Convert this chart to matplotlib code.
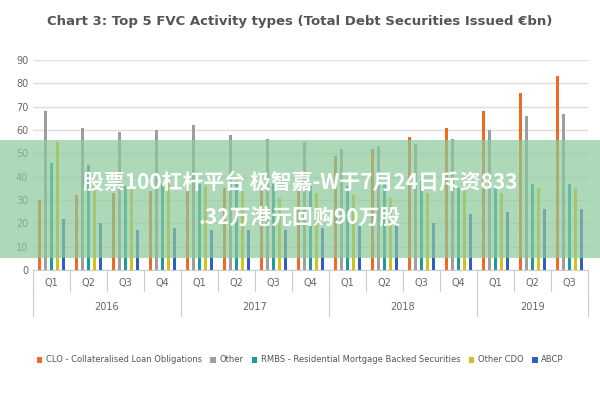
import matplotlib.pyplot as plt
import numpy as np
from matplotlib.patches import Rectangle

quarters = ["Q1", "Q2", "Q3", "Q4"] * 3 + ["Q1", "Q2", "Q3"]
years = ["2016", "2017", "2018", "2019"]
year_len = [4, 4, 4, 3]
series = ["CLO - Collateralised Loan Obligations", "Other",
          "RMBS - Residential Mortgage Backed Securities", "Other CDO", "ABCP"]
colors = ["#f26a21", "#9e9e9e", "#1f9a9a", "#d4c21c", "#2f5fbf"]
clo = [30, 32, 33, 34, 35, 35, 35, 34, 49, 52, 57, 61, 68, 76, 83]
other = [68, 61, 59, 60, 62, 58, 56, 55, 52, 53, 54, 56, 60, 66, 67]
rmbs = [46, 45, 36, 37, 37, 38, 37, 36, 36, 37, 38, 35, 36, 37, 37]
other_cdo = [55, 37, 36, 38, 36, 34, 31, 33, 32, 31, 33, 35, 33, 35, 35]
abcp = [22, 20, 17, 18, 17, 17, 17, 18, 19, 20, 20, 24, 25, 26, 26]
data = [clo, other, rmbs, other_cdo, abcp]

fig = plt.figure(figsize=(6, 4), dpi=100)
ax = fig.add_axes([0.055, 0.325, 0.925, 0.525])
x = np.arange(len(quarters))
w = 0.09
for i, (vals, c, name) in enumerate(zip(data, colors, series)):
    ax.bar(x + (i - 2) * 0.16, vals, w, color=c, label=name)

ax.set_ylim(0, 90)
ax.set_yticks(range(0, 91, 10))
ax.set_xlim(-0.5, len(quarters) - 0.5)
ax.yaxis.grid(True, color="#dddddd", lw=1)
ax.set_axisbelow(True)
for s in ax.spines.values():
    s.set_visible(False)
ax.tick_params(axis="y", length=0, labelsize=7, labelcolor="#666666")
ax.set_xticks(x)
ax.set_xticklabels(quarters, fontsize=7, color="#666666")
ax.tick_params(axis="x", length=0, pad=6)

# year level and separators
trans = ax.get_xaxis_transform()
for b in np.arange(-0.5, len(quarters), 1):
    ax.plot([b, b], [0, -0.1], color="#cccccc", lw=0.8, transform=trans, clip_on=False)
start = -0.5
for yr, n in zip(years, year_len):
    ax.text(start + n / 2, -0.15, yr, ha="center", va="top", fontsize=7,
            color="#666666", transform=trans)
    ax.plot([start, start], [0, -0.22], color="#cccccc", lw=0.8, transform=trans, clip_on=False)
    start += n
ax.plot([start, start], [0, -0.22], color="#cccccc", lw=0.8, transform=trans, clip_on=False)
ax.plot([-0.5, start], [0, 0], color="#cccccc", lw=0.8, transform=trans, clip_on=False)

fig.text(0.5, 0.945, "Chart 3: Top 5 FVC Activity types (Total Debt Securities Issued €bn)",
         ha="center", va="center", fontsize=9.5, color="#555555", weight="bold")
fig.legend(loc="lower center", bbox_to_anchor=(0.5, 0.07), ncol=5, fontsize=6,
           frameon=False, handlelength=0.7, handletextpad=0.4, columnspacing=1.0,
           labelcolor="#555555")

# overlay banner
fig.patches.append(Rectangle((0, 0.355), 1, 0.295, transform=fig.transFigure,
                             facecolor="#8cc99a", alpha=0.7, zorder=10))
fig.text(0.5, 0.545, "股票100杠杆平台 极智嘉-W于7月24日斥资833", ha="center", va="center",
         fontsize=15, color="white", weight="bold", family=["Noto Sans CJK SC", "DejaVu Sans"], zorder=11)
fig.text(0.5, 0.455, ".32万港元回购90万股", ha="center", va="center",
         fontsize=15, color="white", weight="bold", family=["Noto Sans CJK SC", "DejaVu Sans"], zorder=11)

fig.savefig("out.png", dpi=100)
